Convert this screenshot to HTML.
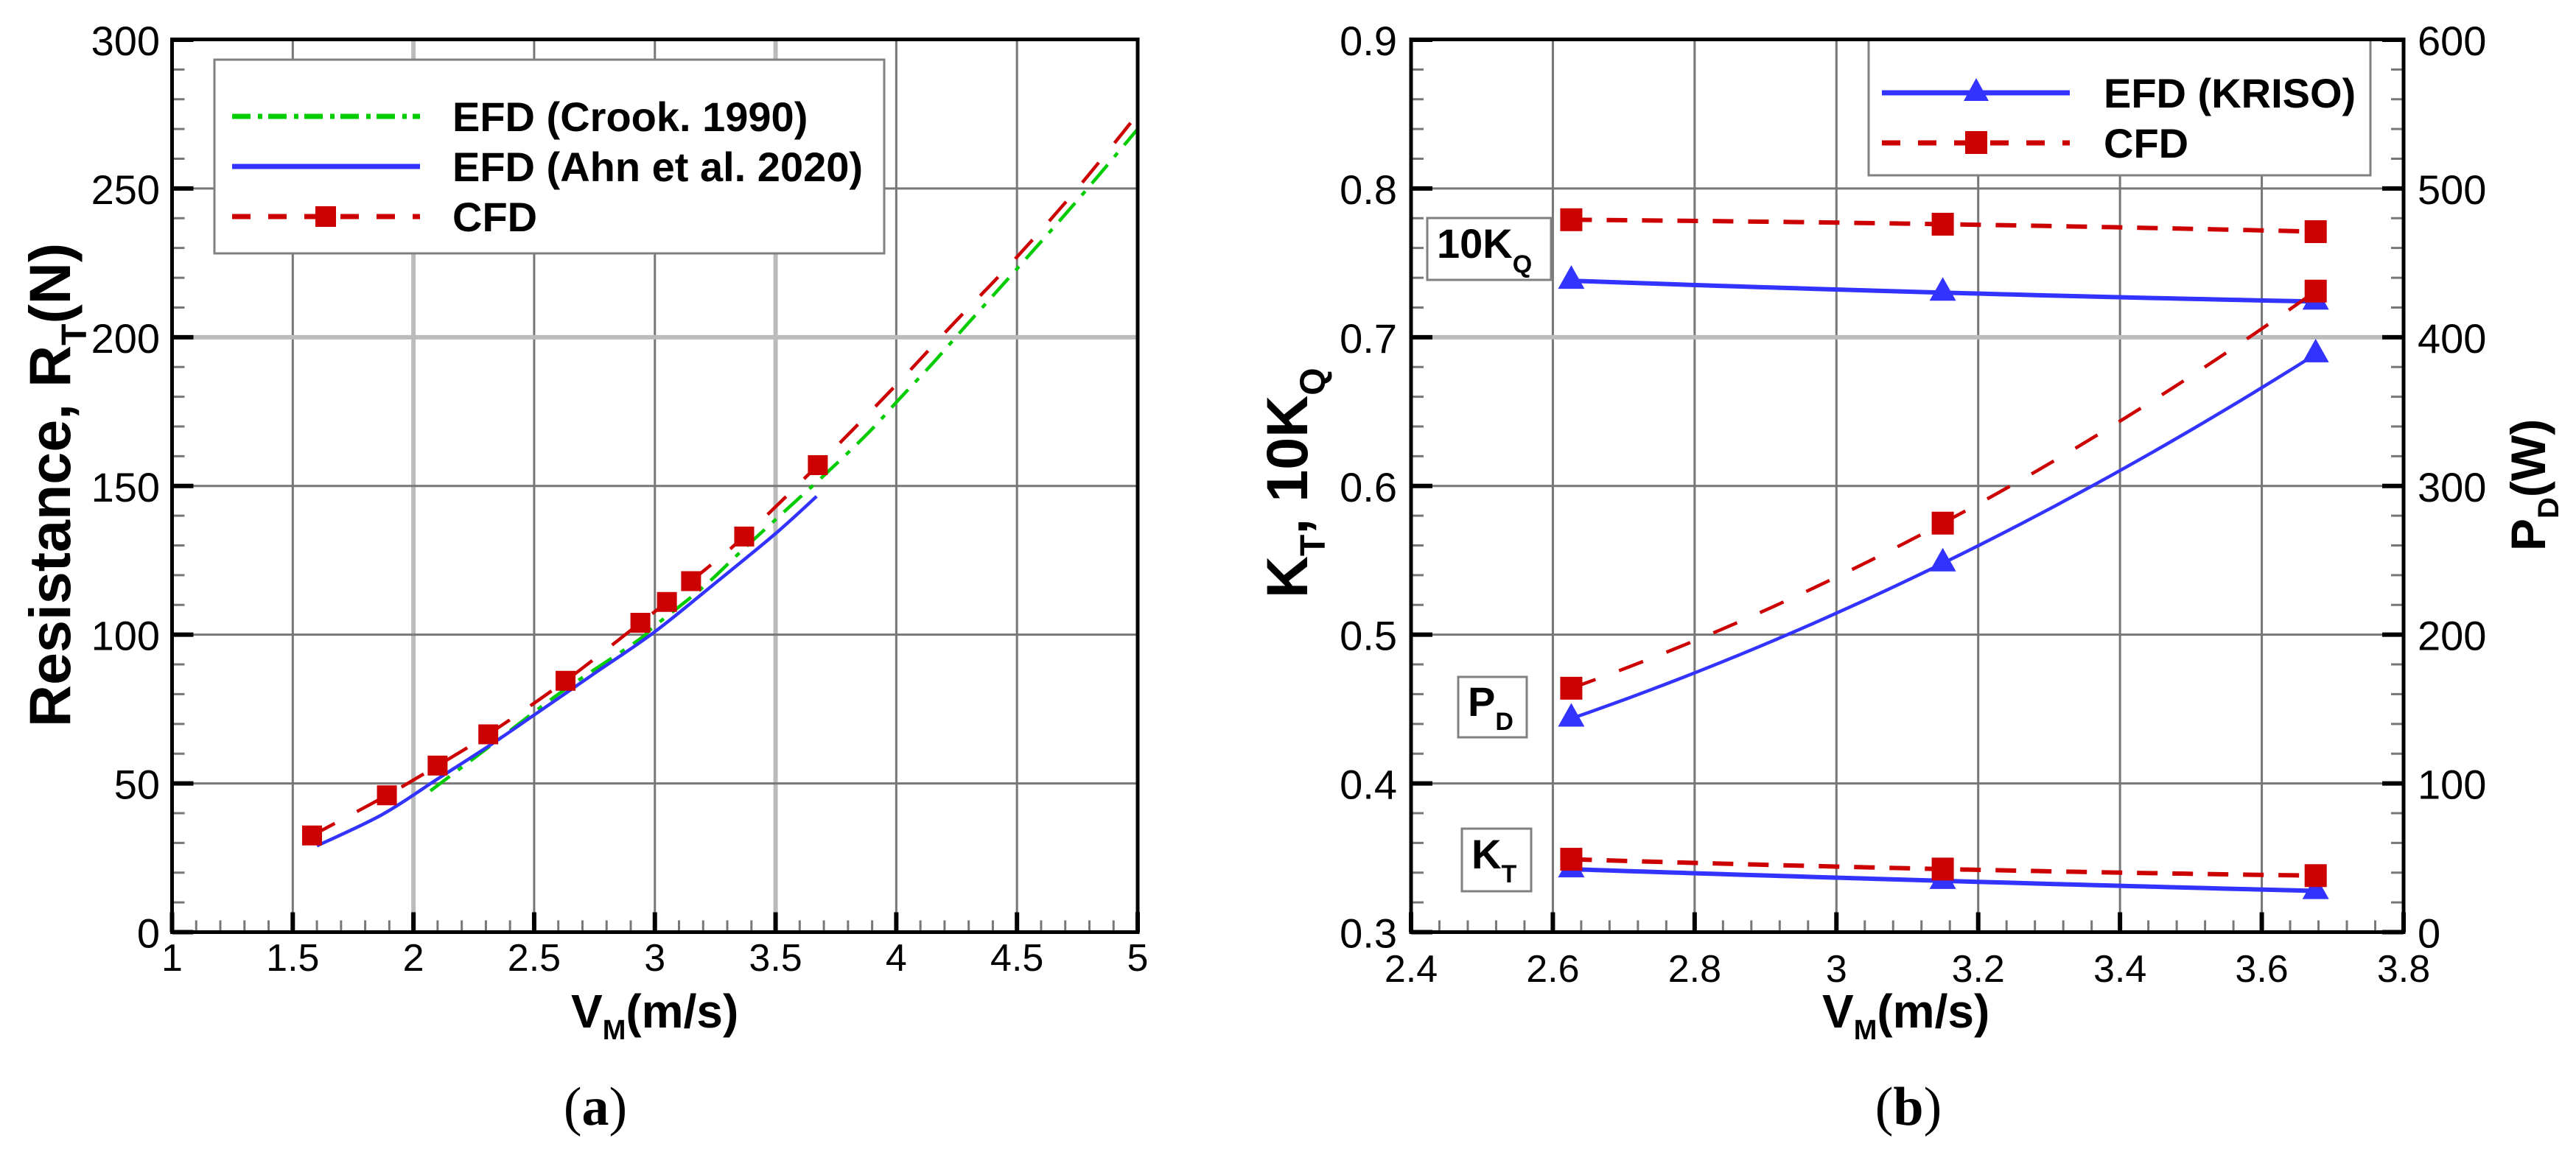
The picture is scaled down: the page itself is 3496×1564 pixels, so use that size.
<!DOCTYPE html>
<html lang="en">
<head>
<meta charset="utf-8">
<title>Resistance and propulsion comparison</title>
<style>
html,body{margin:0;padding:0;background:#fff;}
svg{display:block;}
text{font-family:"Liberation Sans",Arial,sans-serif;fill:#000;}
.cap{font-family:"Liberation Serif","Times New Roman",serif;font-size:74px;}
.leg{font-size:56px;font-weight:bold;}
.tag{font-size:56px;font-weight:bold;}
.boxl{fill:#fff;stroke:#808080;stroke-width:3;}
</style>
</head>
<body>
<svg xmlns="http://www.w3.org/2000/svg" width="3496" height="1564" viewBox="0 0 3496 1564">
  <rect width="3496" height="1564" fill="#fff"/>

  <g id="left-grid"></g>
  <g id="right-grid"></g>

  <g>
    <rect class="boxl" x="291" y="81" width="909" height="263"/>
    <line x1="315" x2="570" y1="158" y2="158" stroke="#00cc00" stroke-width="7" stroke-dasharray="25 10 6 8"/>
    <text class="leg" x="614" y="178">EFD (Crook. 1990)</text>
    <line x1="315" x2="570" y1="226" y2="226" stroke="#3333ff" stroke-width="7"/>
    <text class="leg" x="614" y="246">EFD (Ahn et al. 2020)</text>
    <line x1="315" x2="570" y1="294" y2="294" stroke="#cc0000" stroke-width="7" stroke-dasharray="25 24"/>
    <rect x="428" y="280" width="28" height="28" fill="#cc0000"/>
    <text class="leg" x="614" y="314">CFD</text>
  </g>

  <g>
    <rect class="boxl" x="2536" y="54" width="681" height="184"/>
    <line x1="2554" x2="2809" y1="126" y2="126" stroke="#3333ff" stroke-width="7"/>
    <polygon points="2682,106 2699,137 2665,137" fill="#3333ff"/>
    <text class="leg" x="2855" y="146">EFD (KRISO)</text>
    <line x1="2554" x2="2809" y1="194" y2="194" stroke="#cc0000" stroke-width="7" stroke-dasharray="25 24"/>
    <rect x="2667" y="178" width="30" height="31" fill="#cc0000"/>
    <text class="leg" x="2855" y="214">CFD</text>
  </g>

  <g>
    <rect class="boxl" x="1937" y="296" width="168" height="84"/>
    <text class="tag" x="1950" y="350">10K<tspan font-size="34" dy="20">Q</tspan></text>
  </g>
  <g>
    <rect class="boxl" x="1979" y="919" width="93" height="82"/>
    <text class="tag" x="1992" y="972">P<tspan font-size="34" dy="19">D</tspan></text>
  </g>
  <g>
    <rect class="boxl" x="1984" y="1125" width="94" height="85"/>
    <text class="tag" x="1997" y="1179">K<tspan font-size="34" dy="19">T</tspan></text>
  </g>

  <g id="left-marks"></g>
  <g id="right-marks"></g>
  <g id="left-axes"></g>
  <g id="right-axes"></g>

  <text x="95" y="987" transform="rotate(-90 95 987)" font-size="79" font-weight="bold">Resistance, R<tspan font-size="48" dy="22">T</tspan><tspan dy="-22">(N)</tspan></text>
  <text x="775" y="1395" font-size="64" font-weight="bold">V<tspan font-size="38" dy="16">M</tspan><tspan dy="-16">(m/s)</tspan></text>
  <text x="1774" y="812" transform="rotate(-90 1774 812)" font-size="79" font-weight="bold">K<tspan font-size="48" dy="24">T</tspan><tspan dy="-24">, 10K</tspan><tspan font-size="48" dy="24">Q</tspan></text>
  <text x="3454" y="748" transform="rotate(-90 3454 748)" font-size="66" font-weight="bold">P<tspan font-size="40" dy="18">D</tspan><tspan dy="-18">(W)</tspan></text>
  <text x="2473" y="1395" font-size="64" font-weight="bold">V<tspan font-size="38" dy="16">M</tspan><tspan dy="-16">(m/s)</tspan></text>
  <text class="cap" x="808" y="1527" text-anchor="middle">(<tspan font-weight="bold">a</tspan>)</text>
  <text class="cap" x="2590" y="1527" text-anchor="middle">(<tspan font-weight="bold">b</tspan>)</text>

<script>
// ---------- Panel (a) data ----------
var leftSpeedTicks = [1, 1.5, 2, 2.5, 3, 3.5, 4, 4.5, 5];
var leftSpeedLabels = ['1', '1.5', '2', '2.5', '3', '3.5', '4', '4.5', '5'];
var leftResistanceTicks = [0, 50, 100, 150, 200, 250, 300];
var leftResistanceLabels = ['0', '50', '100', '150', '200', '250', '300'];
var crookSpeed = [2.07, 2.3, 2.6, 2.92, 3.0, 3.2, 3.37, 3.585, 3.7, 3.88, 4.01, 4.155, 4.29, 4.5, 4.75, 5];
var crookResistance = [47.5, 61.5, 80, 97.5, 103, 116, 129, 145, 153.5, 167.5, 179, 191.6, 204, 223, 246, 270];
var ahnSpeed = [1.6, 1.87, 2.1, 2.32, 2.5, 2.75, 3.0, 3.26, 3.5, 3.67];
var ahnResistance = [29, 39.5, 51.5, 63, 73, 87, 101, 118, 134, 146.5];
var cfdSpeed = [1.58, 1.89, 2.1, 2.31, 2.63, 2.94, 3.05, 3.15, 3.37, 3.675];
var cfdResistance = [32.5, 46, 56, 66.5, 84.5, 104, 111, 118, 133, 157];
var cfdTailSpeed = [4.0, 4.23, 4.5, 4.75, 5];
var cfdTailResistance = [184, 204, 227, 250, 275];

// ---------- Panel (b) data ----------
var rightSpeedTicks = [2.4, 2.6, 2.8, 3, 3.2, 3.4, 3.6, 3.8];
var rightSpeedLabels = ['2.4', '2.6', '2.8', '3', '3.2', '3.4', '3.6', '3.8'];
var coefTicks = [0.3, 0.4, 0.5, 0.6, 0.7, 0.8, 0.9];
var coefLabels = ['0.3', '0.4', '0.5', '0.6', '0.7', '0.8', '0.9'];
var powerTicks = [0, 100, 200, 300, 400, 500, 600];
var powerLabels = ['0', '100', '200', '300', '400', '500', '600'];
var testSpeed = [2.626, 3.15, 3.676];
var kqEfd = [0.738, 0.730, 0.724];
var kqCfd = [0.779, 0.776, 0.771];
var ktEfd = [0.3423, 0.3345, 0.3277];
var ktCfd = [0.349, 0.3424, 0.338];
var pdEfd = [143.6, 248, 388.6];
var pdCfd = [164, 275, 431];

// ---------- Layout ----------
var NS = 'http://www.w3.org/2000/svg';
var TOP = 54, BOTTOM = 1265.5;
var LX0 = 233.5, LX1 = 1544, RX0 = 1915, RX1 = 3262;
var RED = '#cc0000', BLUE = '#3333ff', GREEN = '#00cc00';
function linear(d0, d1, r0, r1) { return function (v) { return r0 + (v - d0) * (r1 - r0) / (d1 - d0); }; }
var lx = linear(1, 5, LX0, LX1);
var ly = linear(0, 300, BOTTOM, TOP);
var rx = linear(2.4, 3.8, RX0, RX1);
var ky = linear(0.3, 0.9, BOTTOM, TOP);
var wy = linear(0, 600, BOTTOM, TOP);

function make(parent, tag, attrs) {
  var el = document.createElementNS(NS, tag);
  for (var k in attrs) el.setAttribute(k, attrs[k]);
  parent.appendChild(el);
  return el;
}
function gridLine(parent, x1, y1, x2, y2, light, name) {
  var el = make(parent, 'line', { x1: x1, y1: y1, x2: x2, y2: y2, stroke: light ? '#bbbbbb' : '#777777', 'stroke-width': light ? 6 : 3 });
  
  
}
function tick(parent, x1, y1, x2, y2, major, name) {
  var el = make(parent, 'line', { x1: x1, y1: y1, x2: x2, y2: y2, stroke: major ? '#000000' : '#777777', 'stroke-width': major ? 6 : 3 });
  
  
}
function label(parent, x, y, anchor, size, str, name) {
  var el = make(parent, 'text', { x: x, y: y, 'text-anchor': anchor, 'font-size': size });
  el.textContent = str;
  
  
}
function frame(parent, x0, x1, name) {
  var el = make(parent, 'rect', { x: x0, y: TOP - 0.5, width: x1 - x0, height: BOTTOM - TOP + 0.5, fill: 'none', stroke: '#000000', 'stroke-width': 5 });
  
  
}
function polyPath(xs, ys, sx, sy) {
  // Catmull-Rom smoothing through the data points
  var pts = xs.map(function (v, i) { return [sx(v), sy(ys[i])]; });
  var d = 'M' + pts[0][0] + ' ' + pts[0][1];
  for (var i = 0; i < pts.length - 1; i++) {
    var p0 = pts[Math.max(i - 1, 0)], p1 = pts[i], p2 = pts[i + 1], p3 = pts[Math.min(i + 2, pts.length - 1)];
    d += ' C' + (p1[0] + (p2[0] - p0[0]) / 6) + ' ' + (p1[1] + (p2[1] - p0[1]) / 6) + ' ' +
      (p2[0] - (p3[0] - p1[0]) / 6) + ' ' + (p2[1] - (p3[1] - p1[1]) / 6) + ' ' + p2[0] + ' ' + p2[1];
  }
  return d;
}
function threePointPath(xs, ys, sx, sy) {
  // Smooth parabola through the three measured points
  var d = '';
  var n = 40;
  for (var s = 0; s <= n; s++) {
    var v = xs[0] + (xs[2] - xs[0]) * s / n;
    var a = (v - xs[1]) * (v - xs[2]) / ((xs[0] - xs[1]) * (xs[0] - xs[2]));
    var b = (v - xs[0]) * (v - xs[2]) / ((xs[1] - xs[0]) * (xs[1] - xs[2]));
    var c = (v - xs[0]) * (v - xs[1]) / ((xs[2] - xs[0]) * (xs[2] - xs[1]));
    d += (s ? ' L' : 'M') + sx(v) + ' ' + sy(a * ys[0] + b * ys[1] + c * ys[2]);
  }
  return d;
}
function curve(parent, d, color, width, dash, name) {
  var attrs = { d: d, fill: 'none', stroke: color, 'stroke-width': width };
  if (dash) attrs['stroke-dasharray'] = dash;
  var el = make(parent, 'path', attrs);
  
  
}
function squareMark(parent, cx, cy, w, h, name) {
  var el = make(parent, 'rect', { x: cx - w / 2, y: cy - h / 2, width: w, height: h, fill: RED });
  
  
}
function triMark(parent, cx, cy, name) {
  var el = make(parent, 'polygon', { points: cx + ',' + (cy - 21) + ' ' + (cx + 18) + ',' + (cy + 11) + ' ' + (cx - 18) + ',' + (cy + 11), fill: BLUE });
  
  
}

// ---------- Panel (a) ----------
var lg = document.getElementById('left-grid');
leftSpeedTicks.forEach(function (v) {
  if (v > 1 && v < 5) gridLine(lg, lx(v), TOP, lx(v), BOTTOM, v === 2 || v === 3.5, 'x-gridline');
});
leftResistanceTicks.forEach(function (v) {
  if (v > 0 && v < 300) gridLine(lg, LX0, ly(v), LX1, ly(v), v === 200, 'y-gridline');
});
var lm = document.getElementById('left-marks');
curve(lm, polyPath(crookSpeed, crookResistance, lx, ly), GREEN, 4.5, '33 14 7 14', 'series-crook-line');
curve(lm, polyPath(ahnSpeed, ahnResistance, lx, ly), BLUE, 4.5, null, 'series-ahn-line');
curve(lm, polyPath(cfdSpeed.concat(cfdTailSpeed), cfdResistance.concat(cfdTailResistance), lx, ly), RED, 4.5, '35 34', 'series-cfd-line');
cfdSpeed.forEach(function (v, i) {
  squareMark(lm, lx(v), ly(cfdResistance[i]), 27, 27, 'series-cfd-point');
});
var la = document.getElementById('left-axes');
leftResistanceTicks.forEach(function (v, i) {
  tick(la, LX0, ly(v), LX0 + 29, ly(v), true, 'y-tick-major');
  if (i < leftResistanceTicks.length - 1) {
    for (var m = 1; m < 5; m++) {
      var mv = v + (leftResistanceTicks[i + 1] - v) * m / 5;
      tick(la, LX0, ly(mv), LX0 + 17, ly(mv), false, 'y-tick-minor');
    }
  }
  label(la, 217, ly(v) + 21, 'end', 56, leftResistanceLabels[i], 'y-tick-label');
});
leftSpeedTicks.forEach(function (v, i) {
  tick(la, lx(v), BOTTOM, lx(v), BOTTOM - 27, true, 'x-tick-major');
  if (i < leftSpeedTicks.length - 1) {
    for (var m = 1; m < 5; m++) {
      var mv = v + (leftSpeedTicks[i + 1] - v) * m / 5;
      tick(la, lx(mv), BOTTOM, lx(mv), BOTTOM - 16, false, 'x-tick-minor');
    }
  }
  label(la, lx(v), 1318, 'middle', 52, leftSpeedLabels[i], 'x-tick-label');
});
frame(la, LX0, LX1, 'resistance-plot-frame');

// ---------- Panel (b) ----------
var rg = document.getElementById('right-grid');
rightSpeedTicks.forEach(function (v) {
  if (v > 2.4 && v < 3.8) gridLine(rg, rx(v), TOP, rx(v), BOTTOM, false, 'x-gridline');
});
coefTicks.forEach(function (v) {
  if (v > 0.3 && v < 0.9) gridLine(rg, RX0, ky(v), RX1, ky(v), Math.abs(v - 0.7) < 1e-6, 'y-gridline');
});
var rm = document.getElementById('right-marks');
curve(rm, threePointPath(testSpeed, kqEfd, rx, ky), BLUE, 6, null, 'series-10kq-efd-line');
curve(rm, threePointPath(testSpeed, kqCfd, rx, ky), RED, 6, '28 20', 'series-10kq-cfd-line');
curve(rm, threePointPath(testSpeed, ktEfd, rx, ky), BLUE, 6, null, 'series-kt-efd-line');
curve(rm, threePointPath(testSpeed, ktCfd, rx, ky), RED, 6, '28 20', 'series-kt-cfd-line');
curve(rm, threePointPath(testSpeed, pdEfd, rx, wy), BLUE, 4.5, null, 'series-pd-efd-line');
curve(rm, threePointPath(testSpeed, pdCfd, rx, wy), RED, 4.5, '35 34', 'series-pd-cfd-line');
testSpeed.forEach(function (v, i) {
  triMark(rm, rx(v), ky(kqEfd[i]), 'series-10kq-efd-point');
  triMark(rm, rx(v), ky(ktEfd[i]), 'series-kt-efd-point');
  triMark(rm, rx(v), wy(pdEfd[i]), 'series-pd-efd-point');
  squareMark(rm, rx(v), ky(kqCfd[i]), 30, 31, 'series-10kq-cfd-point');
  squareMark(rm, rx(v), ky(ktCfd[i]), 30, 31, 'series-kt-cfd-point');
  squareMark(rm, rx(v), wy(pdCfd[i]), 30, 31, 'series-pd-cfd-point');
});
var ra = document.getElementById('right-axes');
coefTicks.forEach(function (v, i) {
  tick(ra, RX0, ky(v), RX0 + 29, ky(v), true, 'left-y-tick-major');
  tick(ra, RX1, ky(v), RX1 - 29, ky(v), true, 'right-y-tick-major');
  if (i < coefTicks.length - 1) {
    for (var m = 1; m < 5; m++) {
      var mv = v + (coefTicks[i + 1] - v) * m / 5;
      tick(ra, RX0, ky(mv), RX0 + 17, ky(mv), false, 'left-y-tick-minor');
      tick(ra, RX1, ky(mv), RX1 - 17, ky(mv), false, 'right-y-tick-minor');
    }
  }
  label(ra, 1896, ky(v) + 21, 'end', 56, coefLabels[i], 'left-y-tick-label');
});
powerTicks.forEach(function (v, i) {
  label(ra, 3281, wy(v) + 21, 'start', 56, powerLabels[i], 'right-y-tick-label');
});
rightSpeedTicks.forEach(function (v, i) {
  tick(ra, rx(v), BOTTOM, rx(v), BOTTOM - 27, true, 'x-tick-major');
  if (i < rightSpeedTicks.length - 1) {
    for (var m = 1; m < 5; m++) {
      var mv = v + (rightSpeedTicks[i + 1] - v) * m / 5;
      tick(ra, rx(mv), BOTTOM, rx(mv), BOTTOM - 16, false, 'x-tick-minor');
    }
  }
  label(ra, rx(v), 1333, 'middle', 52, rightSpeedLabels[i], 'x-tick-label');
});
frame(ra, RX0, RX1, 'propulsion-plot-frame');
</script>
</svg>
</body>
</html>
